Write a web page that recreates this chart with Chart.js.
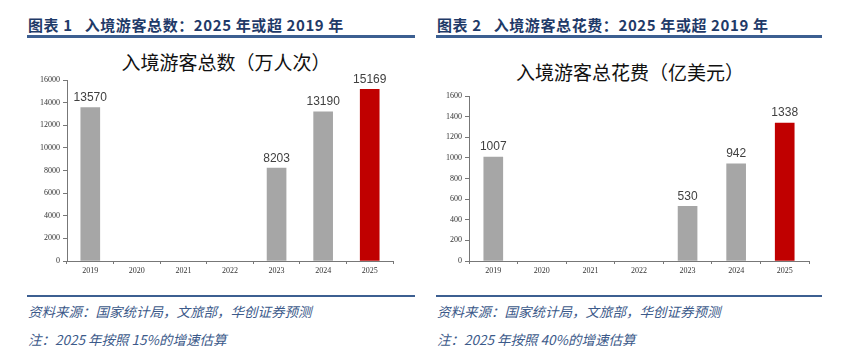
<!DOCTYPE html>
<html>
<head>
<meta charset="utf-8">
<script src="https://cdn.jsdelivr.net/npm/chart.js@4"></script>
<style>
  body { margin: 0; background: #fff; width: 866px; height: 352px; position: relative; overflow: hidden; }
  .hd { position: absolute; top: 14px; font: bold 15px "Noto Sans CJK SC"; color: #1f3a68; white-space: pre; letter-spacing: 0.6px; }
  .bar { position: absolute; height: 3px; background: #3c5f91; }
  .ttl { position: absolute; font: 19px "Noto Sans CJK SC"; color: #111; white-space: nowrap; transform: translateX(-50%); }
  .ft { position: absolute; font: italic 13.5px "Noto Sans CJK SC"; color: #3c5a8a; white-space: pre; }
  canvas { position: absolute; }
</style>
</head>
<body>
<div class="hd" style="left:28px">图表 1   入境游客总数：2025 年或超 2019 年</div>
<div class="hd" style="left:437px">图表 2   入境游客总花费：2025 年或超 2019 年</div>
<div class="bar" style="left:27px;width:388px;top:35px"></div>
<div class="bar" style="left:436px;width:386px;top:35px"></div>
<div class="ttl" style="left:226px;top:48px">入境游客总数（万人次）</div>
<div class="ttl" style="left:630px;top:58px">入境游客总花费（亿美元）</div>
<canvas id="c1" width="380" height="240" style="left:20px;top:40px"></canvas>
<canvas id="c2" width="400" height="240" style="left:430px;top:40px"></canvas>
<div class="bar" style="left:27px;width:388px;top:295px;height:2px"></div>
<div class="bar" style="left:436px;width:386px;top:295px;height:2px"></div>
<div class="ft" style="left:28px;top:301px">资料来源：国家统计局，文旅部，华创证券预测</div>
<div class="ft" style="left:28px;top:329px">注：2025 年按照 15%的增速估算</div>
<div class="ft" style="left:437px;top:301px">资料来源：国家统计局，文旅部，华创证券预测</div>
<div class="ft" style="left:437px;top:329px">注：2025 年按照 40%的增速估算</div>
<script>
const years = ['2019', '2020', '2021', '2022', '2023', '2024', '2025'];
const visitors = [13570, null, null, null, 8203, 13190, 15169];
const spending = [1007, null, null, null, 530, 942, 1338];
const barColors = ['#a6a6a6', '#a6a6a6', '#a6a6a6', '#a6a6a6', '#a6a6a6', '#a6a6a6', '#c00000'];

const valueLabels = {
  id: 'valueLabels',
  afterDatasetsDraw(chart) {
    const ctx = chart.ctx;
    const meta = chart.getDatasetMeta(0);
    ctx.save();
    ctx.font = '12px "Liberation Sans"';
    ctx.fillStyle = '#404040';
    ctx.textAlign = 'center';
    ctx.textBaseline = 'bottom';
    meta.data.forEach((el, i) => {
      const v = chart.data.datasets[0].data[i];
      if (v == null) return;
      ctx.fillText(v, el.x, el.y - 4);
    });
    ctx.restore();
  }
};

function makeChart(id, values, max, step, yWidth, pad) {
  return new Chart(document.getElementById(id), {
    type: 'bar',
    data: {
      labels: years,
      datasets: [{ data: values, backgroundColor: barColors, barThickness: 19 }]
    },
    options: {
      responsive: false,
      animation: false,
      layout: { padding: pad },
      plugins: { legend: { display: false }, tooltip: { enabled: false } },
      scales: {
        x: {
          grid: { drawOnChartArea: false, tickLength: 3, color: '#777', offset: true },
          border: { color: '#777' },
          ticks: { font: { family: 'Liberation Serif', size: 8 }, color: '#333', padding: 2 },
          afterFit: s => { s.height = 19; }
        },
        y: {
          min: 0, max: max,
          grid: { drawOnChartArea: false, tickLength: 4, color: '#777' },
          border: { color: '#777' },
          ticks: {
            stepSize: step, font: { family: 'Liberation Serif', size: 8 }, color: '#333', padding: 3,
            callback: v => String(v)
          },
          afterFit: s => { s.width = yWidth; }
        }
      }
    },
    plugins: [valueLabels]
  });
}

makeChart('c1', visitors, 16000, 2000, 47, { top: 40, right: 7, left: 0, bottom: 0 });
makeChart('c2', spending, 1600, 200, 39, { top: 56, right: 21, left: 0, bottom: 0 });
</script>
</body>
</html>
